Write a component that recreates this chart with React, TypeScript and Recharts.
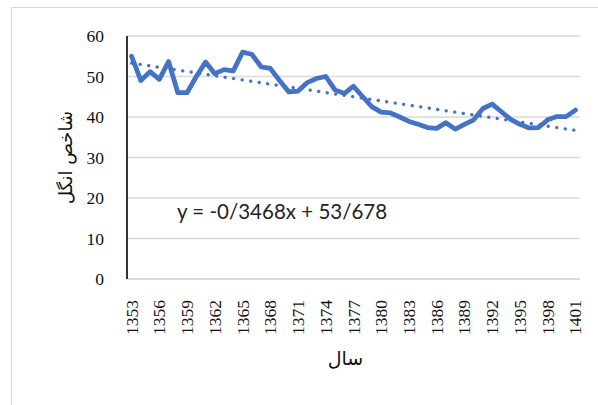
import React from "react";
import { LineChart, Line, XAxis, YAxis, CartesianGrid, Label } from "recharts";

const YEARS = [
  1353, 1354, 1355, 1356, 1357, 1358, 1359, 1360, 1361, 1362, 1363, 1364, 1365,
  1366, 1367, 1368, 1369, 1370, 1371, 1372, 1373, 1374, 1375, 1376, 1377, 1378,
  1379, 1380, 1381, 1382, 1383, 1384, 1385, 1386, 1387, 1388, 1389, 1390, 1391,
  1392, 1393, 1394, 1395, 1396, 1397, 1398, 1399, 1400, 1401,
];

const ENGEL = [
  55, 49, 51.2, 49.3, 53.7, 46, 46, 50, 53.6, 50.7, 51.7, 51.4, 56, 55.5, 52.4,
  52, 49, 46.2, 46.4, 48.5, 49.5, 50, 46.7, 45.8, 47.6, 45, 42.5, 41.2, 41, 40,
  38.9, 38.2, 37.4, 37.2, 38.6, 37, 38.2, 39.3, 42.1, 43.2, 41.3, 39.4, 38.2,
  37.3, 37.4, 39.3, 40.1, 40.1, 41.7,
];

// trendline value read at the first and last year
const TREND_ENDS = [53.3, 36.7];

const Y_TICKS = [0, 10, 20, 30, 40, 50, 60];

const EQUATION = "y = -0/3468x + 53/678";

const BLUE = "#4472C4";

const data = YEARS.map((year, i) => ({
  year,
  engel: ENGEL[i],
  trend: i === 0 ? TREND_ENDS[0] : i === YEARS.length - 1 ? TREND_ENDS[1] : null,
}));

const YearTick = (props: any) => {
  const { x, y, payload } = props;
  return (
    <text
      x={x}
      y={y + 13}
      transform={`rotate(-90 ${x} ${y + 13})`}
      textAnchor="end"
      dominantBaseline="central"
      fontFamily="'Liberation Serif', serif"
      fontSize={17.5}
      fill="#111"
    >
      {payload.value}
    </text>
  );
};

export default function App() {
  return (
    <div style={{ position: "absolute", left: 0, top: 0, width: 598, height: 405, background: "#fff" }}>
      <div
        style={{
          position: "absolute",
          left: 11,
          top: 7,
          width: 600,
          height: 410,
          borderLeft: "1.5px solid #d9d9d9",
          borderTop: "1.5px solid #d9d9d9",
        }}
      />
      <LineChart
        width={598}
        height={405}
        data={data}
        margin={{ top: 36, right: 18, left: 0, bottom: 0 }}
        style={{ position: "absolute", left: 0, top: 0 }}
      >
        <CartesianGrid vertical={false} stroke="#d9d9d9" strokeWidth={1.3} />
        <XAxis
          dataKey="year"
          type="category"
          interval={2}
          height={126}
          padding={{ left: 4.6, right: 4.6 }}
          tickLine={false}
          axisLine={{ stroke: "#d9d9d9", strokeWidth: 1.3 }}
          tick={<YearTick />}
        >
          <Label
            content={({ viewBox }: any) => (
              <text
                x={viewBox.x + viewBox.width / 2 - 8}
                y={viewBox.y + 79}
                textAnchor="middle"
                dominantBaseline="central"
                fontFamily="'DejaVu Sans', sans-serif"
                fontSize={19}
                fill="#111"
              >
                سال
              </text>
            )}
          />
        </XAxis>
        <YAxis
          width={127}
          domain={[0, 60]}
          ticks={Y_TICKS}
          tickLine={false}
          axisLine={{ stroke: "#000", strokeWidth: 1.6 }}
          tickMargin={17}
          tick={{ fontFamily: "'Liberation Serif', serif", fontSize: 17.5, fill: "#111" }}
        >
          <Label
            content={({ viewBox }: any) => {
              const cx = 65;
              const cy = viewBox.y + viewBox.height / 2;
              return (
                <text
                  x={cx}
                  y={cy}
                  transform={`rotate(-90 ${cx} ${cy})`}
                  textAnchor="middle"
                  dominantBaseline="central"
                  fontFamily="'DejaVu Sans', sans-serif"
                  fontSize={18}
                  fill="#111"
                >
                  شاخص انگل
                </text>
              );
            }}
          />
        </YAxis>
        <Line
          dataKey="trend"
          connectNulls
          stroke={BLUE}
          strokeWidth={3.3}
          strokeDasharray="0.1 8.5"
          strokeLinecap="round"
          dot={false}
          activeDot={false}
          isAnimationActive={false}
        />
        <Line
          dataKey="engel"
          type="linear"
          stroke={BLUE}
          strokeWidth={4.8}
          strokeLinejoin="round"
          strokeLinecap="round"
          dot={false}
          activeDot={false}
          isAnimationActive={false}
        />
        <text
          x={177}
          y={211}
          dominantBaseline="central"
          fontFamily="Lato, sans-serif"
          fontSize={20.5}
          fill="#222"
        >
          {EQUATION}
        </text>
      </LineChart>
    </div>
  );
}
